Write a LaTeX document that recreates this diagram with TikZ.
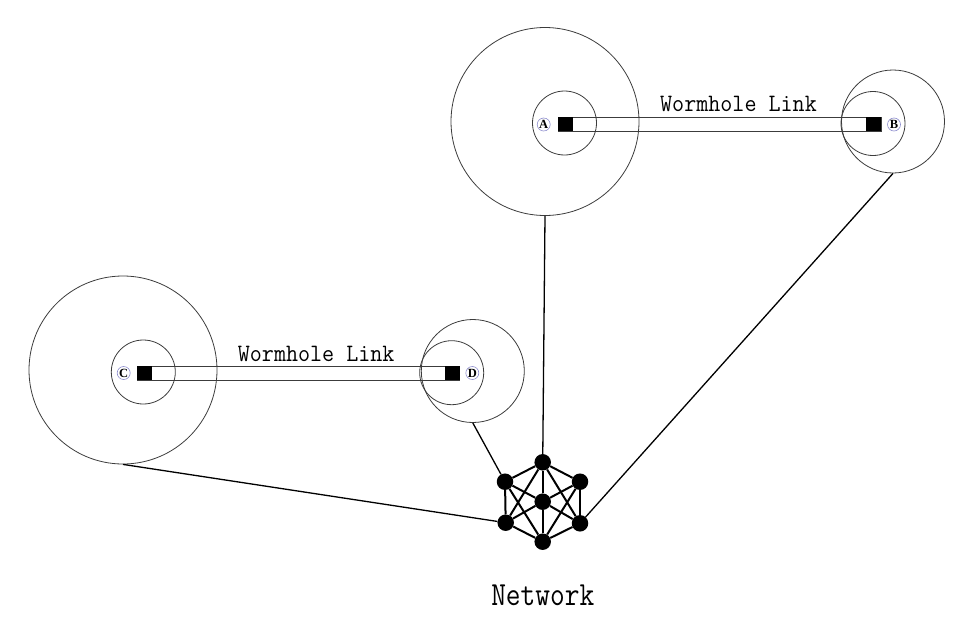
\documentclass[tikz,border=0pt]{standalone}
\usepackage{fontspec}
\setmainfont{Liberation Serif}
\definecolor{ringcol}{RGB}{60,60,60}
\definecolor{tagcol}{RGB}{140,140,205}
\begin{document}
\begin{tikzpicture}[x=1pt,y=-1pt,
  ring/.style={circle,draw=ringcol,line width=0.8pt,inner sep=0pt},
  bigring/.style={ring,minimum size=188pt},
  midring/.style={ring,minimum size=103pt},
  smallring/.style={ring,minimum size=64pt},
  linkbar/.style={rectangle,draw=ringcol,line width=0.8pt,inner sep=0pt,minimum height=14pt},
  endsq/.style={rectangle,fill=black,inner sep=0pt,minimum width=15pt,minimum height=14pt},
  tag/.style={circle,draw=tagcol,line width=0.6pt,inner sep=0pt,minimum size=13pt,font=\fontsize{12.5}{12.5}\selectfont\bfseries},
  netnode/.style={circle,fill=black,inner sep=0pt,minimum size=16.5pt},
  netedge/.style={line width=2pt},
  conn/.style={line width=1.3pt},
  wlabel/.style={anchor=base,inner sep=0pt,font=\ttfamily\fontsize{23.4}{23}\selectfont},
  nlabel/.style={anchor=base,inner sep=0pt,font=\ttfamily\fontsize{28.6}{28}\selectfont}]
\useasboundingbox (0,0) rectangle (972,629);

% --- A / B ---
\node[bigring] (bigA) at (545,121.5) {};
\node[smallring] (smA) at (564.5,123) {};
\node[midring] (bigB) at (893,121.5) {};
\node[smallring] (smB) at (873,123.5) {};
\node[linkbar,minimum width=323pt] (barAB) at (719.5,124) {};
\node[endsq] (sqA) at (565.5,124) {};
\node[endsq] (sqB) at (873.5,124) {};
\node[tag] (tA) at (543.7,124.5) {A};
\node[tag] (tB) at (894,124.5) {B};
\node[wlabel] (wlAB) at (738.5,111) {\scalebox{1}[1.07]{Wormhole Link}};

% --- C / D ---
\node[bigring] (bigC) at (123,370) {};
\node[smallring] (smC) at (143.3,372) {};
\node[midring] (bigD) at (472.8,371) {};
\node[smallring] (smD) at (451.7,372.7) {};
\node[linkbar,minimum width=322pt] (barCD) at (298.3,373) {};
\node[endsq] (sqC) at (144.8,373) {};
\node[endsq] (sqD) at (452.3,373) {};
\node[tag] (tC) at (123.7,373) {C};
\node[tag] (tD) at (472.3,373) {D};
\node[wlabel] (wlCD) at (316.2,361.7) {\scalebox{1}[1.07]{Wormhole Link}};

% --- network ---
\node[netnode] (ntop) at (542.7,462.3) {};
\node[netnode] (nul) at (505,481.7) {};
\node[netnode] (nur) at (580,481.7) {};
\node[netnode] (ncen) at (542.7,501.7) {};
\node[netnode] (nll) at (505.7,522.7) {};
\node[netnode] (nlr) at (580,523.3) {};
\node[netnode] (nbot) at (542.7,541.7) {};
\foreach \a/\b in {ntop/nul,ntop/nur,nul/nll,nur/nlr,nll/nbot,nlr/nbot,
  ncen/ntop,ncen/nbot,ncen/nul,ncen/nur,ncen/nll,ncen/nlr,
  ntop/nll,ntop/nlr,nbot/nul,nbot/nur}
  \draw[netedge] (\a) -- (\b);
\node[nlabel] (netlabel) at (542.8,605.7) {\scalebox{1}[1.18]{Network}};

% --- connectors ---
\draw[conn] (bigA.south) -- (ntop);
\draw[conn] (bigB.south) -- (nlr);
\draw[conn] (bigC.south) -- (nll);
\draw[conn] (bigD.south) -- (nul);
\end{tikzpicture}
\end{document}
